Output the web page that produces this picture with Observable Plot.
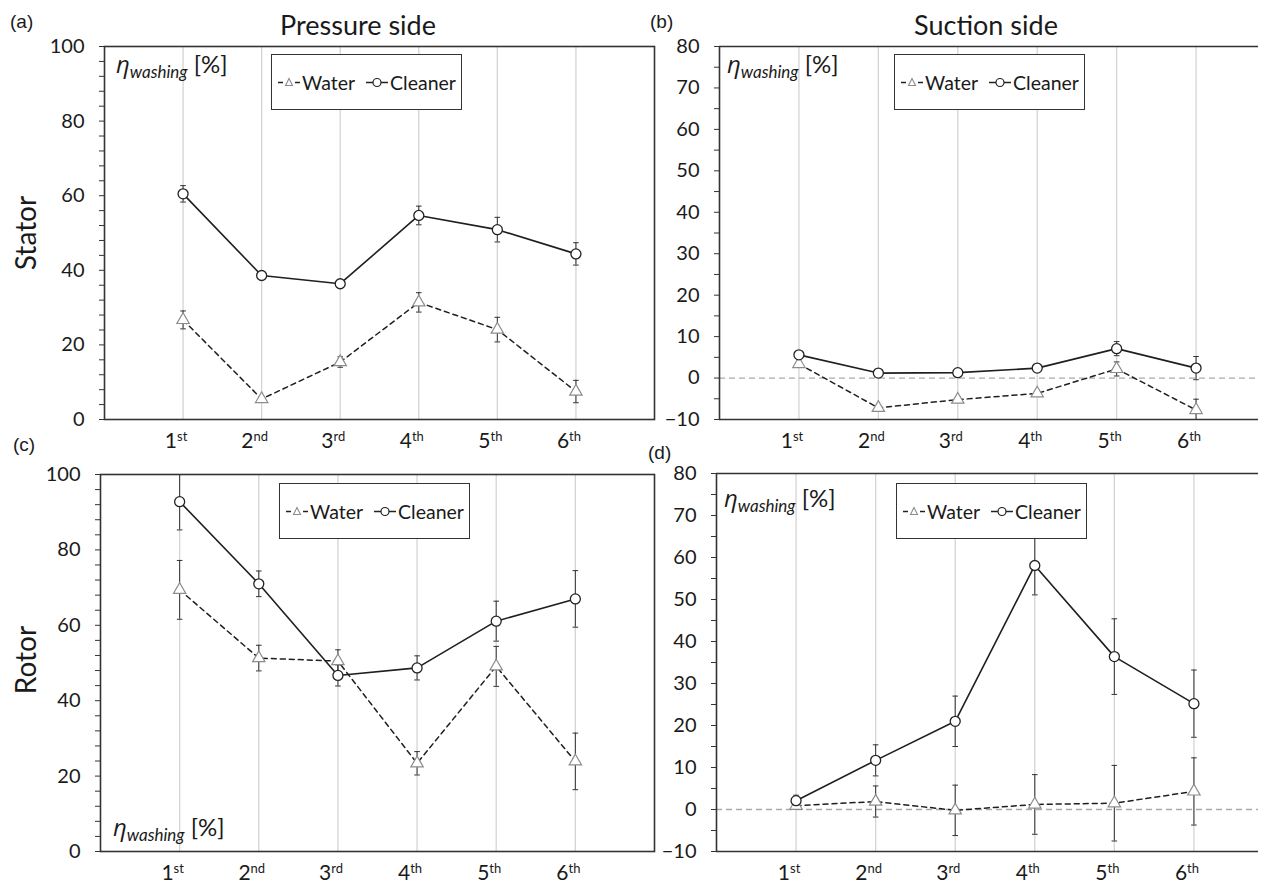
<!DOCTYPE html>
<html>
<head>
<meta charset="utf-8">
<script src="https://cdn.jsdelivr.net/npm/d3@7"></script>
<script src="https://cdn.jsdelivr.net/npm/@observablehq/plot@0.6"></script>
<style>
  html, body { margin: 0; padding: 0; background: #fff; }
  body { width: 1264px; height: 883px; overflow: hidden; position: relative; font-family: Lato, "Open Sans", sans-serif; color: #1a1a1a; }
  .abs { position: absolute; white-space: nowrap; }
  .panel svg { overflow: visible; }
  .title { font-size: 27px; transform: translateX(-50%); line-height: 1; }
  .letter { font-family: "Liberation Sans", Arial, sans-serif; font-size: 19px; line-height: 1; }
  .row { font-size: 28px; line-height: 1; transform: translate(-50%, -50%) rotate(-90deg); }
  .eta { font-size: 24px; line-height: 1; }
  .eta i { font-family: "Open Sans", Lato, sans-serif; }
  .eta sub { font-size: 17px; font-style: italic; vertical-align: -5px; font-family: Lato, sans-serif; }
  .legend { border: 1.5px solid #333; background: #fff; box-sizing: border-box; display: flex; align-items: center; justify-content: center; gap: 10px; font-size: 19.5px; }
  .legend span { display: inline-flex; align-items: center; }
</style>
</head>
<body>
<script>
// ---------- data ----------
const washes = [1, 2, 3, 4, 5, 6];
const washNumbers = ["1", "2", "3", "4", "5", "6"];
const washSuffixes = ["st", "nd", "rd", "th", "th", "th"];

// Stator, pressure side (a)
const statorPressureWater      = [26.7, 5.5, 15.4, 31.4, 24.1, 7.5];
const statorPressureWaterErr   = [2.4, 0.5, 1.4, 2.6, 3.3, 3.0];
const statorPressureCleaner    = [60.5, 38.6, 36.4, 54.7, 50.9, 44.4];
const statorPressureCleanerErr = [2.2, 0.5, 1.1, 2.5, 3.3, 3.0];
// Stator, suction side (b)
const statorSuctionWater      = [3.4, -7.2, -5.2, -3.7, 2.2, -7.7];
const statorSuctionWaterErr   = [0.5, 0.5, 0.6, 0.7, 1.7, 2.6];
const statorSuctionCleaner    = [5.6, 1.2, 1.3, 2.4, 7.1, 2.4];
const statorSuctionCleanerErr = [0.9, 0.4, 0.4, 0.5, 1.7, 2.8];
// Rotor, pressure side (c)
const rotorPressureWater      = [69.4, 51.3, 50.5, 23.4, 49.1, 23.9];
const rotorPressureWaterErr   = [7.8, 3.4, 3.0, 3.1, 5.3, 7.5];
const rotorPressureCleaner    = [92.8, 71.0, 46.7, 48.7, 61.1, 67.0];
const rotorPressureCleanerErr = [7.5, 3.4, 2.8, 3.2, 5.3, 7.5];
// Rotor, suction side (d)
const rotorSuctionWater      = [0.9, 1.9, -0.2, 1.2, 1.5, 4.3];
const rotorSuctionWaterErr   = [0.8, 3.7, 6.0, 7.1, 9.0, 8.0];
const rotorSuctionCleaner    = [2.1, 11.7, 21.0, 58.1, 36.4, 25.2];
const rotorSuctionCleanerErr = [1.3, 3.7, 6.0, 7.0, 9.0, 8.0];

// axis ticks
const pressureMajor = [0, 20, 40, 60, 80, 100];
const pressureMinor = d3.range(0, 101, 4);
const suctionMajor = [-10, 0, 10, 20, 30, 40, 50, 60, 70, 80];
const suctionMinor = d3.range(-10, 81, 5);

const seriesNames = ["Water", "Cleaner"];
const panelLetters = ["(a)", "(b)", "(c)", "(d)"];
const columnTitles = ["Pressure side", "Suction side"];
const rowTitles = ["Stator", "Rotor"];

// ---------- helpers ----------
const capSymbol = {
  draw(ctx, size) {
    const w = Math.sqrt(size / Math.PI);
    ctx.moveTo(-w, 0);
    ctx.lineTo(w, 0);
  }
};

function rows(vals, errs, series) {
  return vals.map((v, i) => ({x: washes[i], v, lo: v - errs[i], hi: v + errs[i], series}));
}

function panel(cfg) {
  const w = rows(cfg.water, cfg.waterErr, seriesNames[0]);
  const c = rows(cfg.cleaner, cfg.cleanerErr, seriesNames[1]);
  const all = w.concat(c);
  const [y0, y1] = cfg.yDomain;
  const marks = [
    Plot.ruleX(washes, {stroke: "#d4d4d4", strokeWidth: 1.3}),
    cfg.zeroLine ? Plot.ruleY([0], {stroke: "#aaaaaa", strokeWidth: 1.3, strokeDasharray: "6,4"}) : null,
    Plot.ruleX(all, {x: "x", y1: "lo", y2: "hi", stroke: "#333", strokeWidth: 1, clip: true}),
    Plot.dot(all, {x: "x", y: "hi", symbol: capSymbol, r: 2.8, stroke: "#333", strokeWidth: 1, clip: true}),
    Plot.dot(all, {x: "x", y: "lo", symbol: capSymbol, r: 2.8, stroke: "#333", strokeWidth: 1, clip: true}),
    Plot.line(w, {x: "x", y: "v", stroke: "#1f1f1f", strokeWidth: 1.5, strokeDasharray: "5,4"}),
    Plot.line(c, {x: "x", y: "v", stroke: "#1f1f1f", strokeWidth: 1.6}),
    Plot.dot(w, {x: "x", y: "v", symbol: "triangle", r: 4.6, stroke: "#8c8c8c", fill: "white", strokeWidth: 1.2}),
    Plot.dot(c, {x: "x", y: "v", symbol: "circle", r: 5, stroke: "#222", fill: "white", strokeWidth: 1.3}),
    cfg.fullFrame
      ? Plot.frame({stroke: "#333", strokeWidth: 1.6})
      : [Plot.ruleY([y0, y1], {stroke: "#333", strokeWidth: 1.6}), Plot.ruleX([0], {stroke: "#333", strokeWidth: 1.6})],
    Plot.axisY({ticks: cfg.minor, tickSize: 5, tickFormat: () => "", stroke: "#333", label: null}),
    Plot.axisY({ticks: cfg.major, tickSize: 0, tickPadding: 20, fontSize: 20, fill: "#1a1a1a", label: null}),
    Plot.axisX({ticks: washes, tickSize: 0, tickPadding: 14, fontSize: 21, fill: "#1a1a1a", label: null, tickFormat: d => washNumbers[d - 1]})
  ];
  const svg = Plot.plot({
    width: cfg.width, height: cfg.height,
    marginTop: cfg.mt, marginBottom: cfg.mb, marginLeft: cfg.ml, marginRight: 6,
    x: {domain: [0, 7], range: cfg.xRange, label: null},
    y: {domain: cfg.yDomain, label: null},
    style: {fontFamily: "Lato, 'Open Sans', sans-serif", background: "transparent", overflow: "visible"},
    marks
  });
  // superscript suffixes on the x tick labels
  const xTexts = svg.querySelectorAll('[aria-label="x-axis tick label"] text');
  xTexts.forEach(t => {
    const n = t.textContent;
    const idx = washNumbers.indexOf(n);
    if (idx < 0) return;
    t.textContent = "";
    const ns = "http://www.w3.org/2000/svg";
    const a = document.createElementNS(ns, "tspan");
    a.textContent = n;
    const b = document.createElementNS(ns, "tspan");
    b.textContent = washSuffixes[idx];
    b.setAttribute("font-size", "13");
    b.setAttribute("dy", "-7");
    t.appendChild(a); t.appendChild(b);
    t.setAttribute("dx", "-7");
  });
  const div = document.createElement("div");
  div.className = "abs panel";
  div.style.left = cfg.left + "px";
  div.style.top = cfg.top + "px";
  div.appendChild(svg);
  document.body.appendChild(div);
}

function addText(cls, html, left, top) {
  const d = document.createElement("div");
  d.className = "abs " + cls;
  d.style.left = left + "px";
  d.style.top = top + "px";
  d.innerHTML = html;
  document.body.appendChild(d);
  return d;
}

function glyph(kind) {
  const segs = '<line x1="1" y1="7.5" x2="6" y2="7.5" stroke="#222" stroke-width="1.5"/><line x1="18" y1="7.5" x2="23" y2="7.5" stroke="#222" stroke-width="1.5"/>';
  if (kind === "Water") {
    return '<svg width="24" height="14" style="margin-right:1px">' + segs +
      '<path d="M12,3.5 L15.5,10.5 L8.5,10.5 Z" fill="white" stroke="#8c8c8c" stroke-width="1.1"/></svg>';
  }
  return '<svg width="24" height="14" style="margin-right:1px">' + segs +
    '<line x1="6" y1="7.5" x2="18" y2="7.5" stroke="#222" stroke-width="1.5"/>' +
    '<circle cx="12" cy="7.5" r="4" fill="white" stroke="#222" stroke-width="1.2"/></svg>';
}

function legend(left, top) {
  const d = addText("legend", seriesNames.map(s => `<span>${glyph(s)}${s}</span>`).join(""), left, top);
  d.style.width = "191px";
  d.style.height = "56px";
}

const etaHTML = '<i>η</i><sub>washing</sub> [%]';

// ---------- panels ----------
panel({left: 0, top: 0, width: 660, height: 460, mt: 46, mb: 41, ml: 104, xRange: [104, 654],
  yDomain: [0, 100], major: pressureMajor, minor: pressureMinor, fullFrame: true, zeroLine: false,
  water: statorPressureWater, waterErr: statorPressureWaterErr, cleaner: statorPressureCleaner, cleanerErr: statorPressureCleanerErr});
panel({left: 640, top: 0, width: 624, height: 460, mt: 46, mb: 41, ml: 79, xRange: [79, 635],
  yDomain: [-10, 80], major: suctionMajor, minor: suctionMinor, fullFrame: false, zeroLine: true,
  water: statorSuctionWater, waterErr: statorSuctionWaterErr, cleaner: statorSuctionCleaner, cleanerErr: statorSuctionCleanerErr});
panel({left: 0, top: 430, width: 660, height: 453, mt: 44, mb: 32, ml: 100, xRange: [100, 654],
  yDomain: [0, 100], major: pressureMajor, minor: pressureMinor, fullFrame: true, zeroLine: false,
  water: rotorPressureWater, waterErr: rotorPressureWaterErr, cleaner: rotorPressureCleaner, cleanerErr: rotorPressureCleanerErr});
panel({left: 640, top: 430, width: 624, height: 453, mt: 43, mb: 32, ml: 76, xRange: [76, 633],
  yDomain: [-10, 80], major: suctionMajor, minor: suctionMinor, fullFrame: false, zeroLine: true,
  water: rotorSuctionWater, waterErr: rotorSuctionWaterErr, cleaner: rotorSuctionCleaner, cleanerErr: rotorSuctionCleanerErr});

// ---------- annotations ----------
addText("title", columnTitles[0], 358, 11);
addText("title", columnTitles[1], 986, 11);
addText("letter", panelLetters[0], 10, 12);
addText("letter", panelLetters[1], 650, 12);
addText("letter", panelLetters[2], 13, 435);
addText("letter", panelLetters[3], 648, 443);
addText("row", rowTitles[0], 25, 233);
addText("row", rowTitles[1], 25, 660);
addText("eta", etaHTML, 116, 52);
addText("eta", etaHTML, 727, 52);
addText("eta", etaHTML, 113, 815);
addText("eta", etaHTML, 724, 486);
legend(271, 54);
legend(894, 54);
legend(279, 483);
legend(896, 483);
</script>
</body>
</html>
